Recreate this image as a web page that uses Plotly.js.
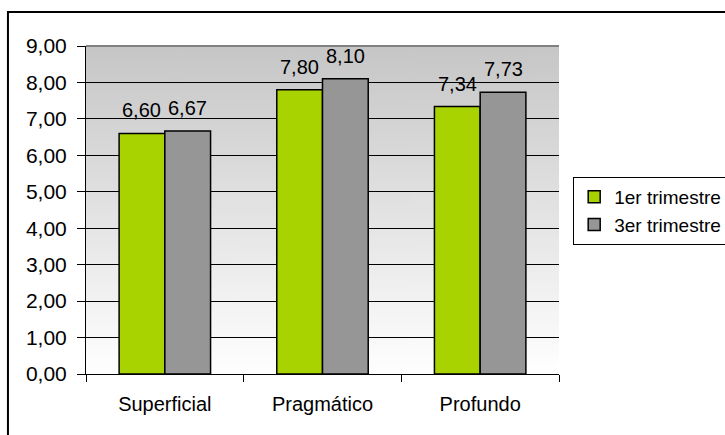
<!DOCTYPE html>
<html>
<head>
<meta charset="utf-8">
<script src="https://cdn.plot.ly/plotly-3.0.1.min.js"></script>
<style>html,body{margin:0;padding:0;background:#fff;}#chart{width:725px;height:435px;}</style>
</head>
<body>
<div id="chart"></div>
<script>
const categories = ["Superficial", "Pragmático", "Profundo"];
const seriesNames = ["1er trimestre", "3er trimestre"];
const trimestre1 = [6.60, 7.80, 7.34];
const trimestre3 = [6.67, 8.10, 7.73];
const yTickVals = [0, 1, 2, 3, 4, 5, 6, 7, 8, 9];

// gradient background image for plot area
const cv = document.createElement('canvas');
cv.width = 8; cv.height = 256;
const cx = cv.getContext('2d');
const g = cx.createLinearGradient(0, 0, 0, 256);
g.addColorStop(0, '#c6c6c6');
g.addColorStop(1, '#ffffff');
cx.fillStyle = g; cx.fillRect(0, 0, 8, 256);
const bgUrl = cv.toDataURL();

const FONT = 'Liberation Sans, Arial, sans-serif';
const mk = (name, y, color) => ({
  type: 'bar', name: name, x: categories, y: y,
  marker: {color: color, line: {color: '#000', width: 1.5}}
});

const data = [
  mk(seriesNames[0], trimestre1, '#a8d300'),
  mk(seriesNames[1], trimestre3, '#969696')
];

// value labels above bars (grouped offset)
const fmt = v => v.toFixed(2).replace('.', ',');
const labelAnn = (vals, shift) => vals.map((v, i) => ({
  xref: 'x', yref: 'y', x: categories[i], y: v, text: fmt(v),
  showarrow: false, xanchor: 'center', yanchor: 'bottom', xshift: shift, yshift: 10,
  font: {family: FONT, size: 20, color: '#000'}
}));
const annotations = labelAnn(trimestre1, -22.9).concat(labelAnn(trimestre3, 22.9));

const layout = {
  width: 725, height: 435,
  margin: {l: 86, r: 166, t: 46, b: 61, autoexpand: false},
  paper_bgcolor: '#fff', plot_bgcolor: 'rgba(0,0,0,0)',
  separators: ',.',
  font: {family: FONT, size: 20, color: '#000'},
  barmode: 'group', bargap: 0.42, bargroupgap: 0,
  showlegend: true,
  legend: {x: 1.03, y: 0.601, xanchor: 'left', yanchor: 'top',
    bordercolor: '#000', borderwidth: 1, bgcolor: '#fff',
    font: {family: FONT, size: 19, color: '#000'}, tracegroupgap: 0, itemwidth: 30},
  xaxis: {type: 'category', tickson: 'boundaries', ticks: 'outside', ticklen: 7,
    tickcolor: '#000', tickwidth: 1, showline: true, linecolor: '#000', linewidth: 1,
    showgrid: false, zeroline: false, tickfont: {family: FONT, size: 20},
    ticklabelstandoff: 12, fixedrange: true},
  yaxis: {range: [0, 9], tickvals: yTickVals, tickformat: '.2f', ticks: 'outside', ticklen: 8,
    tickcolor: '#000', tickwidth: 1, showline: true, linecolor: '#000', linewidth: 1,
    showgrid: true, gridcolor: '#000', gridwidth: 1, zeroline: false,
    tickfont: {family: FONT, size: 21}, ticklabelstandoff: 6, fixedrange: true},
  annotations: annotations,
  images: [{source: bgUrl, xref: 'paper', yref: 'paper', x: 0, y: 1, sizex: 1, sizey: 1,
    xanchor: 'left', yanchor: 'top', sizing: 'stretch', layer: 'below'}],
  shapes: [
    {type: 'line', xref: 'paper', yref: 'paper', x0: 0, x1: 1, y0: 1, y1: 1,
      line: {color: '#808080', width: 2}, layer: 'below'},
    {type: 'rect', xref: 'paper', yref: 'paper', x0: -0.165, x1: 1.4, y0: -0.25, y1: 1.104,
      line: {color: '#000', width: 2}, fillcolor: 'rgba(0,0,0,0)', layer: 'above'}
  ]
};

Plotly.newPlot('chart', data, layout, {displayModeBar: false, staticPlot: true});
</script>
</body>
</html>
